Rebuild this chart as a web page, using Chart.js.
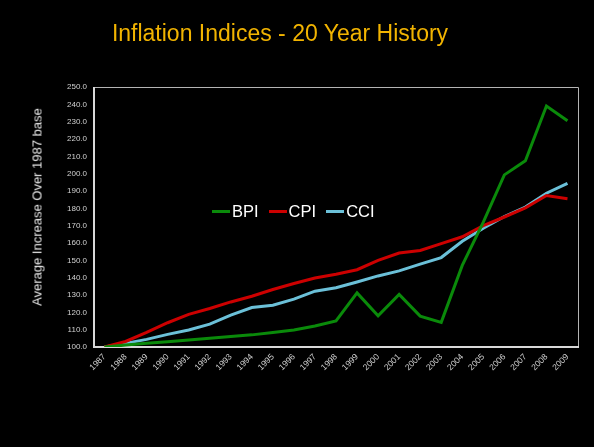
<!DOCTYPE html>
<html>
<head>
<meta charset="utf-8">
<script src="https://cdn.jsdelivr.net/npm/chart.js@4.4.1/dist/chart.umd.min.js"></script>
<style>
  html, body { margin: 0; padding: 0; background: #000; }
  #wrap { position: relative; width: 594px; height: 447px; background: #000; overflow: hidden; }
  #c { position: absolute; left: 0; top: 0; }
  #title { position: absolute; left: 0; width: 560px; top: 20px; text-align: center;
           font-family: "Liberation Sans", Arial, sans-serif; font-size: 23px; color: #F2B400; white-space: nowrap; }
  #ytitle { position: absolute; left: 37px; top: 207px; transform: translate(-50%, -50%) rotate(-90deg);
            font-family: "Liberation Sans", Arial, sans-serif; font-size: 13px; color: #e8e8e8; white-space: nowrap; }
  #legend { position: absolute; left: 212px; top: 202px; display: flex; align-items: center;
            font-family: "Liberation Sans", Arial, sans-serif; font-size: 16.5px; color: #fff; white-space: nowrap; }
  .item { display: flex; align-items: center; margin-right: 10px; }
  .swatch { width: 18px; height: 3px; margin-right: 2px; }
</style>
</head>
<body>
<div id="wrap">
  <canvas id="c" width="594" height="447"></canvas>
  <div id="title">Inflation Indices - 20 Year History</div>
  <div id="ytitle">Average Increase Over 1987 base</div>
  <div id="legend"></div>
</div>
<script>
const years = ["1987","1988","1989","1990","1991","1992","1993","1994","1995","1996","1997","1998","1999","2000","2001","2002","2003","2004","2005","2006","2007","2008","2009"];
const bpi = [100, 101.1, 102.1, 103, 104, 105, 106, 107, 108.3, 109.8, 112.1, 115, 131.2, 118, 130.3, 117.8, 114.2, 147.1, 172, 199.3, 207.5, 239, 230.5];
const cpi = [100, 103.2, 108.4, 114, 118.8, 122.2, 126, 129.3, 133.2, 136.6, 139.8, 142, 144.6, 150, 154.2, 155.7, 159.6, 163.6, 170, 175, 180.3, 187.4, 185.5];
const cci = [100, 102.1, 104.4, 107.3, 109.8, 113.2, 118.4, 122.8, 124.1, 127.6, 132.2, 134.2, 137.5, 141, 143.9, 147.8, 151.6, 161, 168.5, 175.3, 180.7, 188.7, 194.4];
const seriesNames = ["BPI", "CPI", "CCI"];
const seriesColors = ["#0A8A0A", "#CC0000", "#6BC0D8"];
const yMin = 100, yMax = 250, yStep = 10;

const legend = document.getElementById('legend');
seriesNames.forEach((n, i) => {
  const it = document.createElement('div'); it.className = 'item';
  const sw = document.createElement('div'); sw.className = 'swatch'; sw.style.background = seriesColors[i];
  const tx = document.createElement('span'); tx.textContent = n;
  it.appendChild(sw); it.appendChild(tx); legend.appendChild(it);
});

const frame = {
  id: 'frame',
  beforeDatasetsDraw(chart) {
    const {ctx, chartArea: a} = chart;
    ctx.save();
    ctx.strokeStyle = '#b4b4b4'; ctx.lineWidth = 1;
    ctx.beginPath();
    ctx.moveTo(a.left, a.top + 0.5); ctx.lineTo(a.right + 0.5, a.top + 0.5); ctx.lineTo(a.right + 0.5, a.bottom);
    ctx.stroke();
    ctx.strokeStyle = '#d8d8d8'; ctx.lineWidth = 2;
    ctx.beginPath();
    ctx.moveTo(a.left, a.top); ctx.lineTo(a.left, a.bottom); ctx.lineTo(a.right + 1, a.bottom);
    ctx.stroke();
    ctx.restore();
  }
};

const data = [bpi, cpi, cci];
new Chart(document.getElementById('c'), {
  type: 'line',
  data: {
    labels: years,
    datasets: seriesNames.map((n, i) => ({
      label: n, data: data[i], borderColor: seriesColors[i], backgroundColor: seriesColors[i],
      borderWidth: 3, pointRadius: 0, tension: 0, fill: false
    }))
  },
  options: {
    responsive: false, animation: false,
    layout: { padding: { left: 0, top: 87, right: 16, bottom: 0 } },
    plugins: { legend: { display: false }, title: { display: false }, tooltip: { enabled: false } },
    scales: {
      x: {
        type: 'category', offset: true,
        grid: { display: false, drawTicks: false }, border: { display: false },
        ticks: { color: '#d0d0d0', font: { family: 'Liberation Sans', size: 8.5 }, maxRotation: 45, minRotation: 45, autoSkip: false, padding: 5 },
        afterFit(s) { s.height = 100; }
      },
      y: {
        min: yMin, max: yMax,
        grid: { display: false, drawTicks: false }, border: { display: false },
        ticks: { stepSize: yStep, color: '#d0d0d0', font: { family: 'Liberation Sans', size: 8 }, padding: 7,
                 callback: v => Number(v).toFixed(1) },
        afterFit(s) { s.width = 94; }
      }
    }
  },
  plugins: [frame]
});
</script>
</body>
</html>
